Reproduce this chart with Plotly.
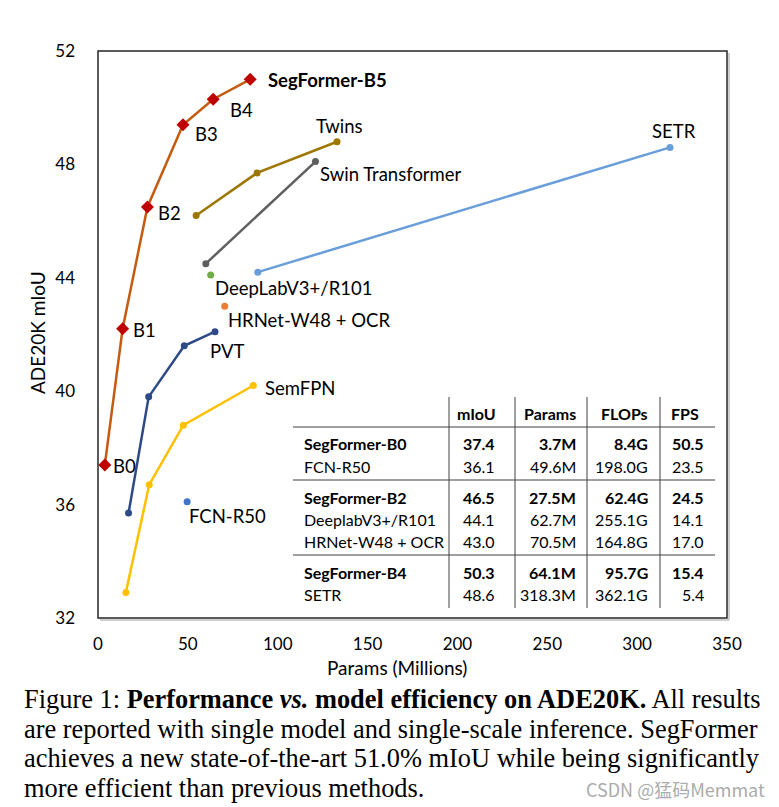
import plotly.graph_objects as go

# ---------------- data ----------------
seg_params = [3.8, 13.7, 27.5, 47.3, 64.1, 84.7]
seg_miou = [37.4, 42.2, 46.5, 49.4, 50.3, 51.0]
seg_names = ["B0", "B1", "B2", "B3", "B4", "SegFormer-B5"]

twins_params = [54.6, 88.5, 133.0]
twins_miou = [46.2, 47.7, 48.8]

swin_params = [60.0, 121.0]
swin_miou = [44.5, 48.1]

deeplab_params = [62.7]
deeplab_miou = [44.1]

hrnet_params = [70.5]
hrnet_miou = [43.0]

setr_params = [88.9, 318.3]
setr_miou = [44.2, 48.6]

fcn_params = [49.6]
fcn_miou = [36.1]

pvt_params = [17.0, 28.2, 48.0, 65.1]
pvt_miou = [35.7, 39.8, 41.6, 42.1]

semfpn_params = [15.5, 28.5, 47.5, 86.4]
semfpn_miou = [32.9, 36.7, 38.8, 40.2]

x_ticks = [0, 50, 100, 150, 200, 250, 300, 350]
y_ticks = [32, 36, 40, 44, 48, 52]

table_header = ["mIoU", "Params", "FLOPs", "FPS"]
table_models = ["SegFormer-B0", "FCN-R50", "SegFormer-B2", "DeeplabV3+/R101",
                "HRNet-W48 + OCR", "SegFormer-B4", "SETR"]
table_miou = ["37.4", "36.1", "46.5", "44.1", "43.0", "50.3", "48.6"]
table_params = ["3.7M", "49.6M", "27.5M", "62.7M", "70.5M", "64.1M", "318.3M"]
table_flops = ["8.4G", "198.0G", "62.4G", "255.1G", "164.8G", "95.7G", "362.1G"]
table_fps = ["50.5", "23.5", "24.5", "14.1", "17.0", "15.4", "5.4"]
table_bold = [True, False, True, False, False, True, False]

# ---------------- layout helpers ----------------
W, H = 779, 807
L, R, T, B = 98, 727, 51, 618
FONT = "Lato"
LS = 18.5   # label font size


def px(x):
    return (x - L) / (R - L)


def py(y):
    return (B - y) / (B - T)


fig = go.Figure()


def add_line(xs, ys, color, mcolor=None, symbol="circle", msize=7, width=2.5):
    fig.add_trace(go.Scatter(
        x=xs, y=ys, mode="lines+markers",
        line=dict(color=color, width=width),
        marker=dict(color=mcolor or color, symbol=symbol, size=msize,
                    line=dict(width=0)),
        showlegend=False, hoverinfo="x+y"))


add_line(semfpn_params, semfpn_miou, "#FFC000")
add_line(pvt_params, pvt_miou, "#2E4A86")
add_line(setr_params, setr_miou, "#6A9EDB")
add_line(swin_params, swin_miou, "#5F5F5F")
add_line(twins_params, twins_miou, "#9E7700")
add_line(deeplab_params, deeplab_miou, "#70AD47")
add_line(hrnet_params, hrnet_miou, "#ED7D31")
add_line(fcn_params, fcn_miou, "#4472C4")
add_line(seg_params, seg_miou, "#C55A11", mcolor="#C00000", symbol="diamond", msize=10)

ann = []


def label(text, x, y, size=LS, anchor="left", bold=False, color="black", family=FONT, yanchor="middle"):
    ann.append(dict(text=("<b>%s</b>" % text) if bold else text,
                    x=px(x), y=py(y), xref="paper", yref="paper",
                    xanchor=anchor, yanchor=yanchor, showarrow=False,
                    font=dict(family=family, size=size, color=color)))


# series labels
label(seg_names[5], 266, 80, bold=True)
label(seg_names[4], 228, 110)
label(seg_names[3], 193, 134)
label(seg_names[2], 156, 213)
label(seg_names[1], 131, 330)
label(seg_names[0], 111, 466)
label("Twins", 314, 126)
label("Swin Transformer", 318, 174)
label("SETR", 650, 131)
label("DeepLabV3+/R101", 213, 288)
label("HRNet-W48 + OCR", 226, 320)
label("PVT", 208, 351)
label("SemFPN", 263, 388)
label("FCN-R50", 187, 516)

# axis titles
label("Params (Millions)", 397, 668, size=19, anchor="center")
ann.append(dict(text="ADE20K mIoU", x=px(37), y=py(333), xref="paper", yref="paper",
                xanchor="center", yanchor="middle", showarrow=False, textangle=-90,
                font=dict(family=FONT, size=19, color="black")))

# table
TS = 16
hdr_x = [498, 578, 650, 701]
for h, hx in zip(table_header, hdr_x):
    label(h, hx, 413, size=TS, anchor="right", bold=True)
row_y = [443, 466, 497, 519, 541, 572, 594]
for i, yv in enumerate(row_y):
    b = table_bold[i]
    label(table_models[i], 302, yv, size=TS, bold=b)
    label(table_miou[i], 497, yv, size=TS, anchor="right", bold=b)
    label(table_params[i], 578, yv, size=TS, anchor="right", bold=b)
    label(table_flops[i], 650, yv, size=TS, anchor="right", bold=b)
    label(table_fps[i], 706, yv, size=TS, anchor="right", bold=b)

shapes = []
for yv in [427, 480, 555]:
    shapes.append(dict(type="line", xref="paper", yref="paper",
                       x0=px(293), x1=px(715), y0=py(yv), y1=py(yv),
                       line=dict(color="#7F7F7F", width=1.5)))
for xv in [449, 515, 587, 660]:
    shapes.append(dict(type="line", xref="paper", yref="paper",
                       x0=px(xv), x1=px(xv), y0=py(397), y1=py(608),
                       line=dict(color="#404040", width=1)))
# plot frame with slight shadow
shapes.append(dict(type="line", xref="paper", yref="paper", x0=px(729), x1=px(729),
                   y0=py(53), y1=py(620), line=dict(color="#BFBFBF", width=1.5)))
shapes.append(dict(type="line", xref="paper", yref="paper", x0=px(100), x1=px(729),
                   y0=py(620), y1=py(620), line=dict(color="#BFBFBF", width=1.5)))
shapes.append(dict(type="rect", xref="paper", yref="paper", x0=0, x1=1, y0=0, y1=1,
                   line=dict(color="#262626", width=1.5)))

# caption
CAP = "Liberation Serif"
cap_lines = [
    "Figure 1: <b>Performance <i>vs.</i> model efficiency on ADE20K.</b> All results",
    "are reported with single model and single-scale inference. SegFormer",
    "achieves a new state-of-the-art 51.0% mIoU while being significantly",
    "more efficient than previous methods.",
]
cap_y = [699, 729, 758, 788]
for t, yv in zip(cap_lines, cap_y):
    label(t, 22, yv, size=26.4, family=CAP)

label("CSDN @猛码Memmat", 767, 789, size=18, anchor="right", color="#ABABAB",
      family="Noto Sans CJK SC")

fig.update_layout(
    width=W, height=H,
    margin=dict(l=L, r=W - R, t=T, b=H - B, pad=0),
    paper_bgcolor="white", plot_bgcolor="white",
    annotations=ann, shapes=shapes,
    xaxis=dict(range=[0, 350], tickvals=x_ticks, showgrid=False, zeroline=False,
               showline=False, ticks="", ticklabelstandoff=14,
               tickfont=dict(family=FONT, size=17, color="black"), fixedrange=True),
    yaxis=dict(range=[32, 52], tickvals=y_ticks, showgrid=False, zeroline=False,
               showline=False, ticks="", ticklabelstandoff=22,
               tickfont=dict(family=FONT, size=17, color="black"), fixedrange=True),
)

fig.write_html("out.html", config={"displayModeBar": False},
               post_script="document.body.style.margin='0';document.body.style.padding='0';")
